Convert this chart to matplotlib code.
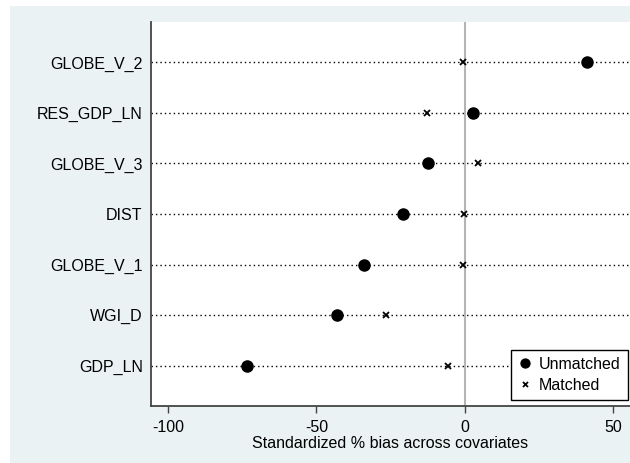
import numpy as np
import matplotlib
matplotlib.use("Agg")
import matplotlib.pyplot as plt
from matplotlib.patches import Rectangle

# covariates, top to bottom
covariates = ["GLOBE_V_2", "RES_GDP_LN", "GLOBE_V_3", "DIST", "GLOBE_V_1", "WGI_D", "GDP_LN"]
unmatched = [41.2, 2.8, -12.5, -21.0, -34.0, -43.0, -73.3]
matched = [-0.5, -12.8, 4.4, -0.4, -0.8, -26.6, -5.8]
xticks = [-100, -50, 0, 50]

plt.rcParams['font.family'] = ['Liberation Sans', 'DejaVu Sans']

fig = plt.figure(figsize=(6.3, 4.63), dpi=100)
bg = '#EAF2F3'
fig.patches.append(Rectangle((10 / 630, 0), 1, (463 - 6) / 463,
                             transform=fig.transFigure, facecolor=bg,
                             edgecolor='none', zorder=-5))

ax = fig.add_axes([151 / 630, 57 / 463, 479 / 630, 384 / 463])
ax.set_zorder(2)
ax.set_facecolor('white')

ypos = np.arange(len(covariates))[::-1] + 1
for y in ypos:
    ax.axhline(y, color='black', lw=1.0, ls=(0, (1, 2.2)), zorder=1)
ax.axvline(0, color='#b4b4b4', lw=1.5, zorder=1)

ax.plot(unmatched, ypos, 'o', color='black', ms=8, ls='none', label='Unmatched', zorder=3)
ax.plot(matched, ypos, 'x', color='black', ms=4.5, mew=1.3, ls='none', label='Matched', zorder=3)

ax.set_xlim(-105.7, 55.6)
ax.set_ylim(0.2, 7.8)
ax.set_yticks(ypos)
ax.set_yticklabels(covariates, fontsize=11.5)
ax.tick_params(axis='y', length=0, pad=6)
ax.set_xticks(xticks)
ax.set_xticklabels([str(t) for t in xticks], fontsize=11.5)
ax.tick_params(axis='x', length=5, width=1, color='#444444', pad=5)
ax.set_xlabel('Standardized % bias across covariates', fontsize=11.5, labelpad=1)

for s in ['top', 'right']:
    ax.spines[s].set_visible(False)
ax.spines['left'].set_color('#444444')
ax.spines['bottom'].set_color('#444444')
ax.spines['left'].set_linewidth(1.3)
ax.spines['bottom'].set_linewidth(1.3)

leg = ax.legend(loc='lower right', bbox_to_anchor=(0.995, 0.016), borderaxespad=0,
                fontsize=11.5, fancybox=False, edgecolor='black', framealpha=1,
                markerscale=0.8, handletextpad=0.4, handlelength=0.9,
                borderpad=0.45, labelspacing=0.35)
leg.get_frame().set_linewidth(1.0)

fig.savefig('out.png', dpi=100)
